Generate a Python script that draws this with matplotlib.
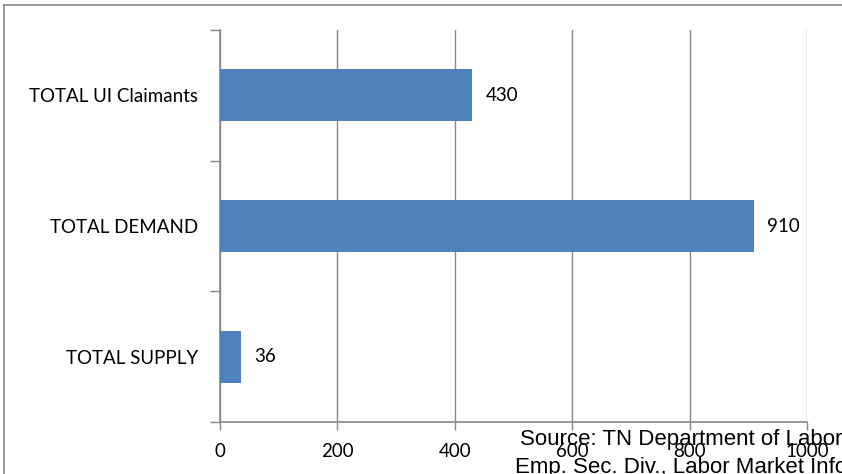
import matplotlib
matplotlib.use("Agg")
import matplotlib.pyplot as plt
from matplotlib.lines import Line2D

categories = ["TOTAL SUPPLY", "TOTAL DEMAND", "TOTAL UI Claimants"]
values = [36, 910, 430]
x_ticks = [0, 200, 400, 600, 800, 1000]
source_lines = ["Source: TN Department of Labor", "Emp. Sec. Div., Labor Market Info"]

W, H = 842, 474
fig = plt.figure(figsize=(W / 100, H / 100), dpi=100)
fig.patch.set_facecolor("white")

# axes box in pixel coordinates
left, right, top, bottom = 220, 807, 30, 422
ax = fig.add_axes([left / W, 1 - bottom / H, (right - left) / W, (bottom - top) / H])

label_font = ["Lato", "DejaVu Sans"]
fs = 13.5
bar_color = "#4F81BD"
grid_color = "#878787"
ypos = list(range(len(categories)))
ax.barh(ypos, values, height=0.4, color=bar_color, zorder=3)

for y, v in zip(ypos, values):
    ax.text(v + 22, y, f"{v}", va="center", ha="left",
            fontsize=fs, family=label_font, color="black")

ax.set_xlim(0, 1000)
ax.set_ylim(-0.5, len(categories) - 0.5)
ax.set_xticks(x_ticks)
ax.set_xticklabels([str(t) for t in x_ticks], family=label_font, fontsize=fs)
ax.set_yticks(ypos)
ax.set_yticklabels(categories, family=label_font, fontsize=fs)

# category boundary ticks on the y axis
ax.set_yticks([y - 0.5 for y in ypos] + [len(categories) - 0.5], minor=True)
ax.tick_params(axis="y", which="major", length=0, pad=16)
ax.tick_params(axis="y", which="minor", length=7, color=grid_color, width=1)
ax.tick_params(axis="x", which="major", length=6, color=grid_color, width=1, pad=9)

ax.grid(axis="x", color=grid_color, linewidth=1, zorder=0)
for s in ["top", "right"]:
    ax.spines[s].set_visible(False)
for s in ["left", "bottom"]:
    ax.spines[s].set_color(grid_color)
    ax.spines[s].set_linewidth(1.2)

# source note, partly running past the figure edge
src_font = ["Liberation Sans", "DejaVu Sans"]
fig.text(681 / W, 1 - 439 / H, source_lines[0], ha="center", va="center",
         fontsize=16, family=src_font)
fig.text(681 / W, 1 - 468 / H, source_lines[1], ha="center", va="center",
         fontsize=16, family=src_font)

# outer frame (top and left edges)
fig.add_artist(Line2D([4 / W, 1], [1 - 5 / H, 1 - 5 / H], transform=fig.transFigure,
                      color=grid_color, linewidth=1.2))
fig.add_artist(Line2D([4 / W, 4 / W], [0, 1 - 5 / H], transform=fig.transFigure,
                      color=grid_color, linewidth=1.2))

fig.savefig("out.png", dpi=100)
